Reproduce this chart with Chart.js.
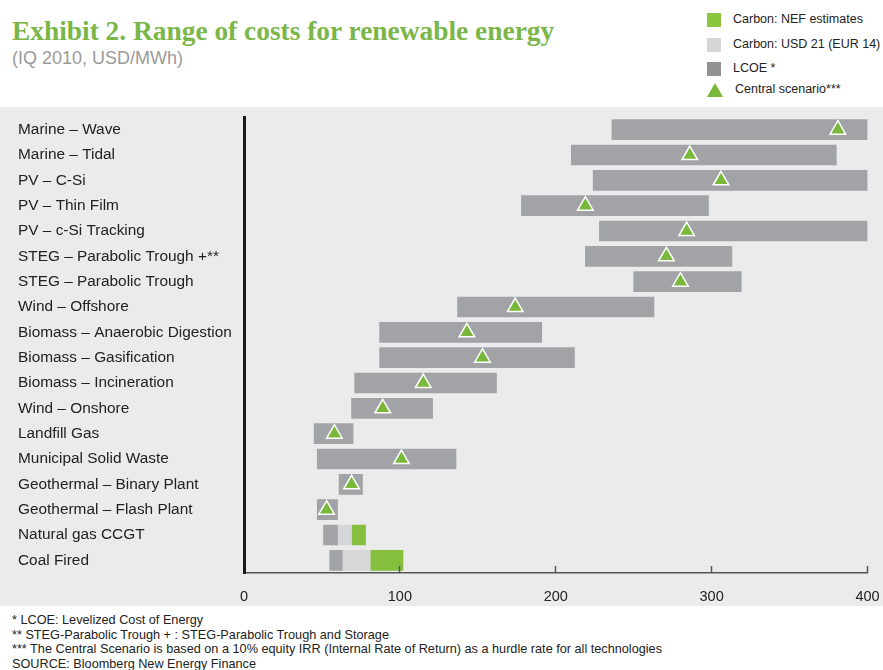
<!DOCTYPE html>
<html>
<head>
<meta charset="utf-8">
<script src="https://cdn.jsdelivr.net/npm/chart.js@4"></script>
<style>
  body { margin: 0; width: 883px; height: 670px; background: #fff; position: relative; overflow: hidden;
         font-family: "Liberation Sans", Arial, sans-serif; }
  #title { position: absolute; left: 12px; top: 16px; font: bold 27.4px "Liberation Serif", serif; color: #7ab648; white-space: nowrap; }
  #subtitle { position: absolute; left: 12px; top: 48px; font-size: 18px; color: #9a9a9a; }
  .leg { position: absolute; left: 707px; font-size: 12.5px; color: #222; white-space: nowrap; }
  .leg span.sw { position: absolute; left: 0; top: 0; width: 14px; height: 14px; }
  .leg span.tx { position: absolute; left: 26px; top: -1px; }
  #plot { position: absolute; left: 0; top: 107px; width: 883px; height: 499px; background: #ebebeb; }
  #notes { position: absolute; left: 12px; top: 613px; font-size: 12.7px; line-height: 14.7px; color: #222; white-space: nowrap; }
</style>
</head>
<body>
<div id="title">Exhibit 2. Range of costs for renewable energy</div>
<div id="subtitle">(IQ 2010, USD/MWh)</div>

<div class="leg" style="top:13px"><span class="sw" style="background:#8cc63f"></span><span class="tx">Carbon: NEF estimates</span></div>
<div class="leg" style="top:38px"><span class="sw" style="background:#d6d6d6"></span><span class="tx">Carbon: USD 21 (EUR 14)</span></div>
<div class="leg" style="top:62px"><span class="sw" style="background:#939393"></span><span class="tx">LCOE *</span></div>
<div class="leg" style="top:83px">
  <svg width="16" height="14" style="position:absolute;left:0;top:0"><polygon points="8,0 16,14 0,14" fill="#7ab83b"/></svg>
  <span class="tx" style="left:28px">Central scenario***</span>
</div>

<div id="plot"><canvas id="chart" width="883" height="499"></canvas></div>

<div id="notes">
  * LCOE: Levelized Cost of Energy<br>
  ** STEG-Parabolic Trough + : STEG-Parabolic Trough and Storage<br>
  *** The Central Scenario is based on a 10% equity IRR (Internal Rate of Return) as a hurdle rate for all technologies<br>
  SOURCE: Bloomberg New Energy Finance
</div>

<script>
const categories = [
  "Marine – Wave", "Marine – Tidal", "PV – C-Si", "PV – Thin Film", "PV – c-Si Tracking",
  "STEG – Parabolic Trough +**", "STEG – Parabolic Trough", "Wind – Offshore",
  "Biomass – Anaerobic Digestion", "Biomass – Gasification", "Biomass – Incineration",
  "Wind – Onshore", "Landfill Gas", "Municipal Solid Waste", "Geothermal – Binary Plant",
  "Geothermal – Flash Plant", "Natural gas CCGT", "Coal Fired"
];
const lcoeLow  = [236, 210, 224, 178, 228, 219, 250, 137, 87, 87, 71, 69, 45, 47, 61, 47, 51, 55];
const lcoeHigh = [400, 380, 400, 298, 400, 313, 319, 263, 191, 212, 162, 121, 70, 136, 76, 60, 60, 63];
const central  = [381, 286, 306, 219, 284, 271, 280, 174, 143, 153, 115, 89, 58, 101, 69, 53, null, null];
const usd21Low  = [null, null, null, null, null, null, null, null, null, null, null, null, null, null, null, null, 60, 63];
const usd21High = [null, null, null, null, null, null, null, null, null, null, null, null, null, null, null, null, 69, 81];
const nefLow  = [null, null, null, null, null, null, null, null, null, null, null, null, null, null, null, null, 69, 81];
const nefHigh = [null, null, null, null, null, null, null, null, null, null, null, null, null, null, null, null, 78, 102];
const xTicks = [0, 100, 200, 300, 400];

const range = (lo, hi) => lo.map((v, i) => v == null ? null : [v, hi[i]]);

// small tick marks pointing up from the x axis
const upTicks = {
  id: "upTicks",
  afterDatasetsDraw(chart) {
    const { ctx, scales: { x }, chartArea } = chart;
    ctx.save();
    ctx.strokeStyle = "#555";
    ctx.lineWidth = 1.5;
    xTicks.forEach(v => {
      if (v === 0) return;
      const px = Math.round(x.getPixelForValue(v)) - 0.5;
      ctx.beginPath();
      ctx.moveTo(px, chartArea.bottom);
      ctx.lineTo(px, chartArea.bottom - 7);
      ctx.stroke();
    });
    ctx.restore();
  }
};

new Chart(document.getElementById("chart"), {
  type: "bar",
  data: {
    labels: categories,
    datasets: [
      { type: "line", label: "Central scenario", data: central, showLine: false, order: 0, clip: false,
        pointStyle: "triangle", pointRadius: 9, pointBackgroundColor: "#7ab83b",
        pointBorderColor: "#ffffff", pointBorderWidth: 1.5 },
      { label: "LCOE", data: range(lcoeLow, lcoeHigh), backgroundColor: "#a2a3a6", grouped: false, order: 1, barThickness: 20 },
      { label: "Carbon: USD 21", data: range(usd21Low, usd21High), backgroundColor: "#d6d7d8", grouped: false, order: 1, barThickness: 20 },
      { label: "Carbon: NEF", data: range(nefLow, nefHigh), backgroundColor: "#86bf3e", grouped: false, order: 1, barThickness: 20 }
    ]
  },
  options: {
    indexAxis: "y",
    responsive: false,
    animation: false,
    layout: { autoPadding: false, padding: { left: 18, right: 0, top: 10, bottom: 0 } },
    plugins: { legend: { display: false }, tooltip: { enabled: false } },
    scales: {
      x: {
        min: 0, max: 400,
        afterBuildTicks: s => { s.ticks = xTicks.map(v => ({ value: v })); },
        afterFit: s => { s.height = 33; s.paddingLeft = 0; s.paddingRight = 15.5; },
        ticks: { font: { size: 14.5, family: "Liberation Sans" }, color: "#222", padding: 15 },
        grid: { display: true, drawOnChartArea: false, drawTicks: false },
        border: { color: "#555", width: 1.5 }
      },
      y: {
        afterFit: s => { s.width = 226; },
        ticks: { font: { size: 15.4, family: "Liberation Sans" }, color: "#222", crossAlign: "far", padding: 0 },
        grid: { display: true, drawOnChartArea: false, drawTicks: false },
        border: { color: "#1a1a1a", width: 3 }
      }
    }
  },
  plugins: [upTicks]
});
</script>
</body>
</html>
